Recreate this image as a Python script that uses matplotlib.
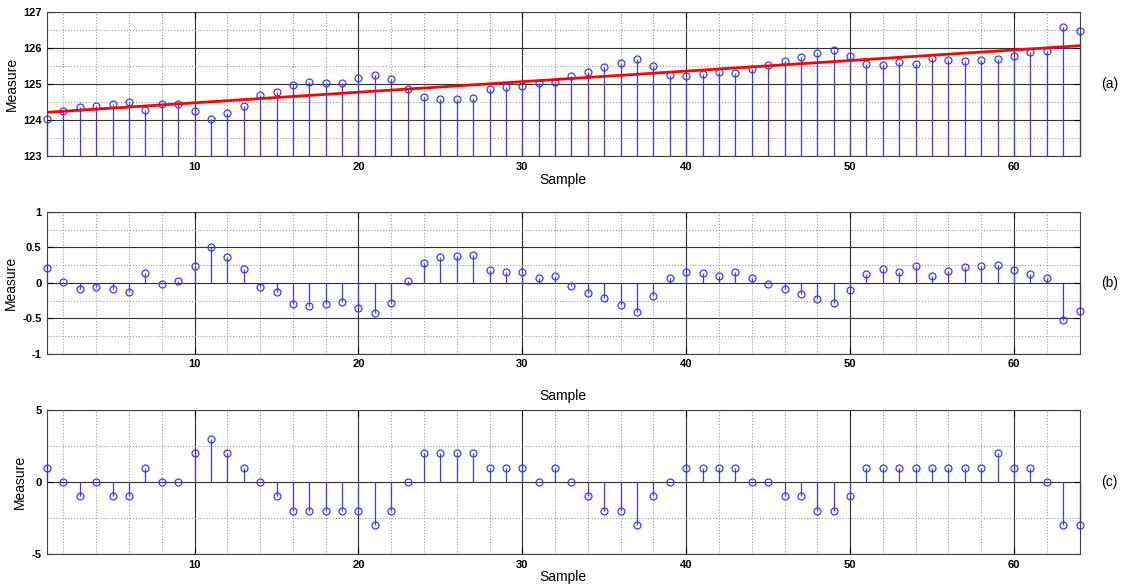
import matplotlib
matplotlib.use("Agg")
import matplotlib.pyplot as plt
from matplotlib.ticker import MultipleLocator, FormatStrFormatter

plt.rcParams['font.family'] = ['Liberation Sans', 'DejaVu Sans']
plt.rcParams['axes.unicode_minus'] = False

samples = list(range(1, 65))

measure = [124.04, 124.26, 124.38, 124.40, 124.44, 124.51, 124.28, 124.46, 124.44, 124.26,
           124.03, 124.21, 124.39, 124.69, 124.79, 124.98, 125.05, 125.04, 125.04, 125.16,
           125.25, 125.14, 124.87, 124.64, 124.58, 124.60, 124.62, 124.86, 124.91, 124.94,
           125.04, 125.05, 125.22, 125.34, 125.47, 125.59, 125.71, 125.51, 125.27, 125.23,
           125.28, 125.35, 125.32, 125.43, 125.54, 125.64, 125.75, 125.86, 125.94, 125.79,
           125.57, 125.54, 125.61, 125.55, 125.72, 125.67, 125.65, 125.67, 125.69, 125.79,
           125.89, 125.93, 126.58, 126.49]

trend_x = [1, 64]
trend_y = [124.22, 126.07]

residual = [0.21, 0.01, -0.08, -0.06, -0.09, -0.13, 0.14, -0.02, 0.03, 0.24,
            0.51, 0.36, 0.20, -0.06, -0.13, -0.30, -0.33, -0.30, -0.27, -0.35,
            -0.43, -0.28, 0.02, 0.28, 0.37, 0.38, 0.39, 0.18, 0.15, 0.15,
            0.07, 0.10, -0.04, -0.14, -0.22, -0.31, -0.41, -0.19, 0.07, 0.15,
            0.14, 0.09, 0.15, 0.07, -0.01, -0.08, -0.15, -0.23, -0.29, -0.10,
            0.13, 0.20, 0.15, 0.24, 0.10, 0.17, 0.22, 0.23, 0.25, 0.18,
            0.12, 0.07, -0.52, -0.40]

quantized = [1, 0, -1, 0, -1, -1, 1, 0, 0, 2,
             3, 2, 1, 0, -1, -2, -2, -2, -2, -2,
             -3, -2, 0, 2, 2, 2, 2, 1, 1, 1,
             0, 1, 0, -1, -2, -2, -3, -1, 0, 1,
             1, 1, 1, 0, 0, -1, -1, -2, -2, -1,
             1, 1, 1, 1, 1, 1, 1, 1, 2, 1,
             1, 0, -3, -3]

stem_col = '#3a3aff'

fig = plt.figure(figsize=(11.21, 5.85), dpi=100)

def setup(ax, ylim, major, minor, tag, xlab_pad):
    ax.set_xlim(1, 64)
    ax.set_ylim(*ylim)
    ax.xaxis.set_major_locator(MultipleLocator(10))
    ax.xaxis.set_minor_locator(MultipleLocator(2))
    ax.yaxis.set_major_locator(MultipleLocator(major))
    ax.yaxis.set_minor_locator(MultipleLocator(minor))
    ax.yaxis.set_major_formatter(FormatStrFormatter('%g'))
    ax.grid(True, which='major', color='#303030', linestyle='-', linewidth=0.8)
    ax.grid(True, which='minor', color='#9a9a9a', linestyle=':', linewidth=0.8)
    ax.set_axisbelow(True)
    ax.tick_params(which='both', direction='in', top=True, right=True,
                   labelsize=8, length=4, pad=4)
    ax.tick_params(which='minor', length=0)
    for lab in ax.get_xticklabels() + ax.get_yticklabels():
        lab.set_fontweight('bold')
    for s in ax.spines.values():
        s.set_color('#404040')
        s.set_linewidth(0.8)
    ax.set_xlabel('Sample', fontsize=10, labelpad=xlab_pad)
    ax.set_ylabel('Measure', fontsize=10, labelpad=3)
    ax.text(1.029, 0.5, tag, transform=ax.transAxes, fontsize=10,
            ha='center', va='center')

def stems(ax, y, base):
    ml, sl, bl = ax.stem(samples, y, bottom=base, basefmt=' ')
    plt.setp(sl, color=stem_col, linewidth=0.9)
    plt.setp(ml, marker='o', markersize=5, markerfacecolor='none',
             markeredgecolor=stem_col, markeredgewidth=0.9)
    for a in (ml, sl):
        a.set_clip_on(False)

ax1 = fig.add_axes([0.042, 0.733, 0.921, 0.246])
stems(ax1, measure, 123)
ax1.plot(trend_x, trend_y, color='red', linewidth=2)
setup(ax1, (123, 127), 1, 0.5, '(a)', 1)

ax2 = fig.add_axes([0.042, 0.395, 0.921, 0.243])
stems(ax2, residual, 0)
setup(ax2, (-1, 1), 0.5, 0.25, '(b)', 14)

ax3 = fig.add_axes([0.042, 0.053, 0.921, 0.246])
stems(ax3, quantized, 0)
setup(ax3, (-5, 5), 5, 2.5, '(c)', 0)

fig.savefig('out.png', dpi=100)
